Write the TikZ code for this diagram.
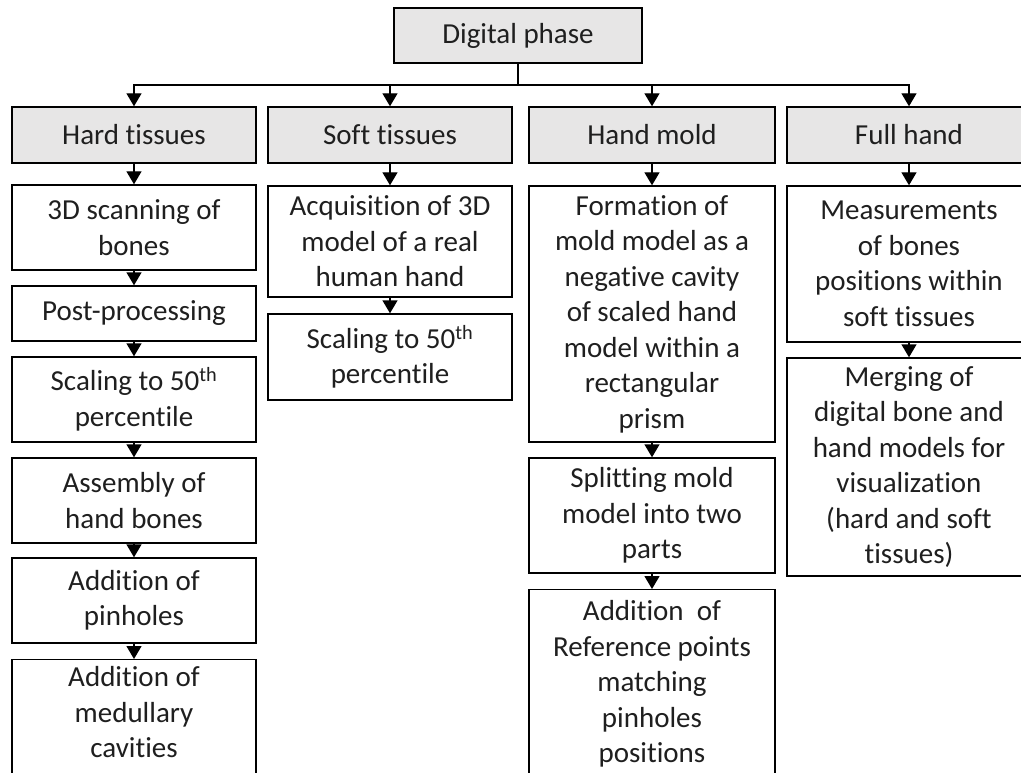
\documentclass[tikz,border=0pt]{standalone}
\usepackage{fontspec}
\setmainfont{Carlito}[Ligatures=NoCommon]
\usetikzlibrary{arrows.meta}
\definecolor{hdrgray}{HTML}{E7E6E6}
\tikzset{
  x=1pt, y=-1pt,
  box/.style={draw=black, line width=1.4pt, fill=white, align=center, inner sep=2pt,
    font=\fontsize{29}{35.5}\selectfont, text=black!88},
  hdr/.style={box, fill=hdrgray},
  arr/.style={line width=1.4pt, -{Triangle[width=15pt,length=13pt]}},
  bus/.style={line width=1.4pt}
}
\begin{document}
\begin{tikzpicture}
\useasboundingbox (0,0) rectangle (1021,773);
\clip (0,0) rectangle (1021,773);
% top
\node[hdr, minimum width=248pt, minimum height=55pt] (top) at (518,35.5) {Digital phase};
\coordinate (bus) at (0,85);
% headers
\node[hdr, minimum width=244pt, minimum height=56pt] (hh) at (134,135) {Hard tissues};
\node[hdr, minimum width=244pt, minimum height=56pt] (sh) at (390,135) {Soft tissues};
\node[hdr, minimum width=246pt, minimum height=56pt] (mh) at (652,135) {Hand mold};
\node[hdr, minimum width=244pt, minimum height=56pt] (fh) at (909,135) {Full hand};
% hard column
\node[box, minimum width=244pt, minimum height=85pt] (h1) at (134,227.5) {3D scanning of\\bones};
\node[box, minimum width=244pt, minimum height=55pt] (h2) at (134,313.5) {Post-processing};
\node[box, minimum width=244pt, minimum height=85pt] (h3) at (134,399.5) {Scaling to 50\textsuperscript{th}\\percentile};
\node[box, minimum width=244pt, minimum height=85pt] (h4) at (134,500.5) {Assembly of\\hand bones};
\node[box, minimum width=244pt, minimum height=85pt] (h5) at (134,600.5) {Addition of\\pinholes};
\node[box, minimum width=244pt, anchor=north, inner ysep=7pt] (h6) at (134,659) {Addition of\\medullary\\cavities\\[14pt]};
% soft column
\node[box, minimum width=244pt, minimum height=111pt] (s1) at (390,241.5) {Acquisition of 3D\\model of a real\\human hand};
\node[box, minimum width=244pt, minimum height=86pt] (s2) at (390,357) {Scaling to 50\textsuperscript{th}\\percentile};
% mold column
\node[box, minimum width=246pt, minimum height=256pt] (m1) at (652,314) {Formation of\\mold model as a\\negative cavity\\of scaled hand\\model within a\\rectangular\\prism};
\node[box, minimum width=246pt, minimum height=115pt] (m2) at (652,515.5) {Splitting mold\\model into two\\parts};
\node[box, minimum width=246pt, anchor=north, inner ysep=11pt] (m3) at (652,589) {Addition\ \ of\\Reference points\\matching\\pinholes\\positions\\[14pt]};
% full column
\node[box, minimum width=244pt, minimum height=156pt] (f1) at (909,264) {Measurements\\of bones\\positions within\\soft tissues};
\node[box, minimum width=244pt, minimum height=218pt] (f2) at (909,467) {Merging of\\digital bone and\\hand models for\\visualization\\(hard and soft\\tissues)};
% bus connectors
\draw[bus] (top.south) -- (top.south |- bus);
\foreach \h in {hh,sh,mh,fh}{
  \draw[arr] (top.south |- bus) -| (\h.north);
}
% column arrows
\draw[arr] (hh) -- (h1);
\draw[arr] (h1) -- (h2);
\draw[arr] (h2) -- (h3);
\draw[arr] (h3) -- (h4);
\draw[arr] (h4) -- (h5);
\draw[arr] (h5.south) -- (h6.north);
\draw[arr] (sh) -- (s1);
\draw[arr] (s1) -- (s2);
\draw[arr] (mh) -- (m1);
\draw[arr] (m1) -- (m2);
\draw[arr] (m2.south) -- (m3.north);
\draw[arr] (fh) -- (f1);
\draw[arr] (f1) -- (f2);
\end{tikzpicture}
\end{document}
